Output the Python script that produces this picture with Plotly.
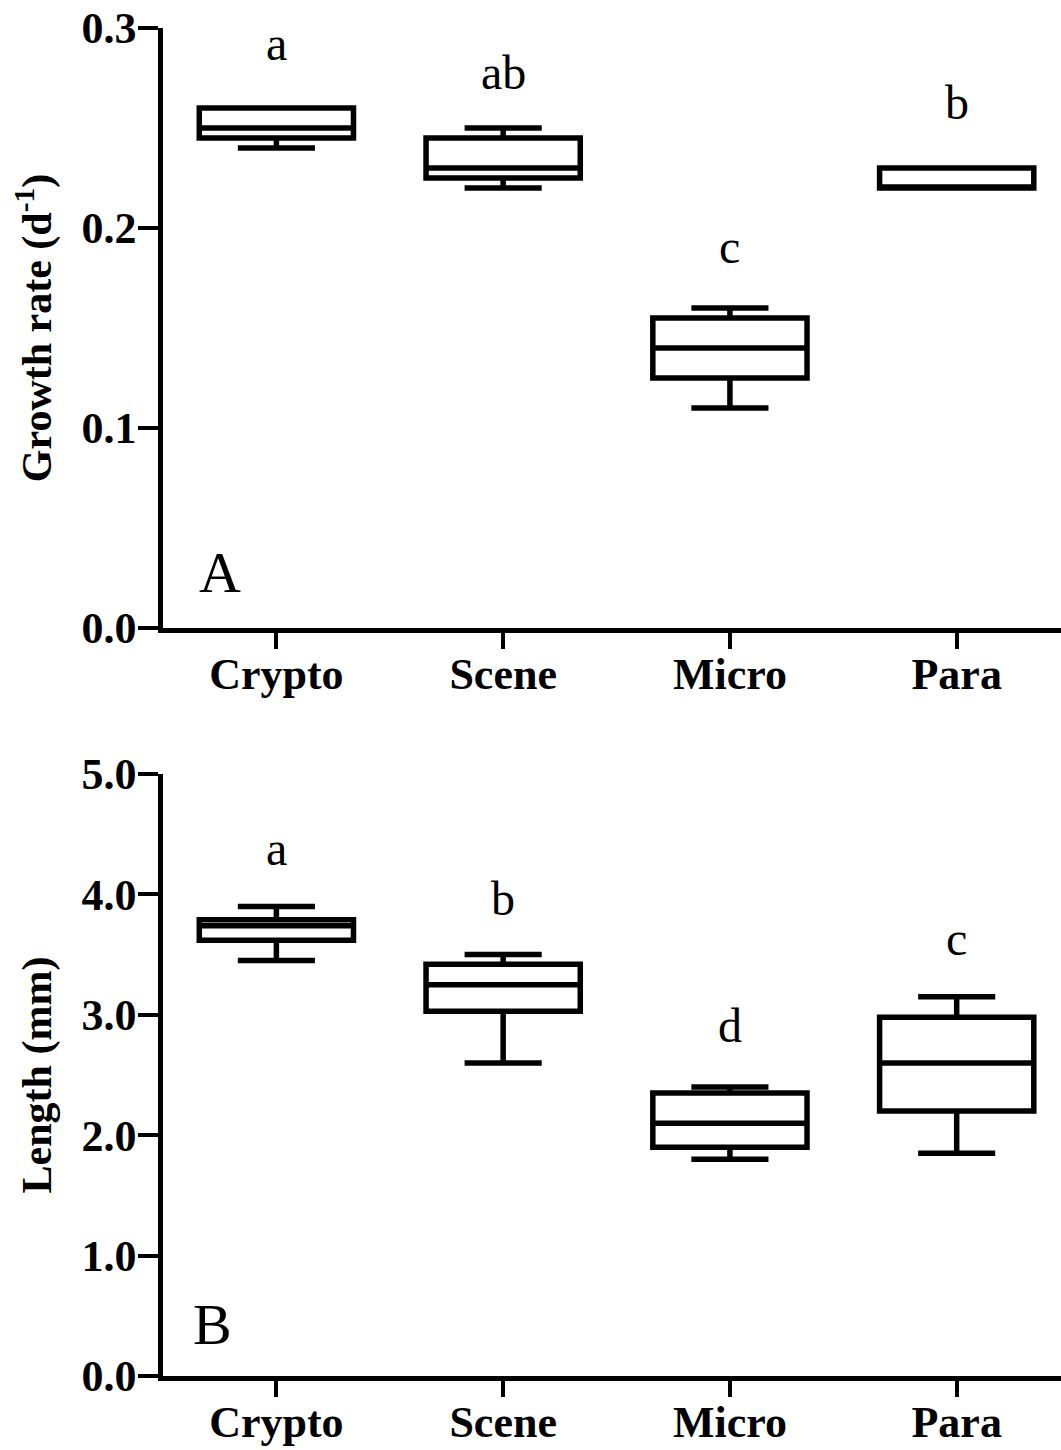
import plotly.graph_objects as go

# Groups shown on both panels
categories = ["Crypto", "Scene", "Micro", "Para"]

# Panel A: specific growth rate (d^-1), box summary per group
growth_min = [0.24, 0.22, 0.11, 0.22]
growth_q1 = [0.245, 0.225, 0.125, 0.22]
growth_median = [0.25, 0.23, 0.14, 0.22]
growth_q3 = [0.26, 0.245, 0.155, 0.23]
growth_max = [0.26, 0.25, 0.16, 0.23]
growth_letters = ["a", "ab", "c", "b"]
growth_letter_y = [0.292, 0.278, 0.191, 0.263]

# Panel B: body length (mm), box summary per group
length_min = [3.45, 2.6, 1.8, 1.85]
length_q1 = [3.62, 3.03, 1.9, 2.2]
length_median = [3.74, 3.25, 2.1, 2.6]
length_q3 = [3.79, 3.42, 2.35, 2.98]
length_max = [3.9, 3.5, 2.4, 3.15]
length_letters = ["a", "b", "d", "c"]
length_letter_y = [4.38, 3.97, 2.91, 3.63]

SERIF = "Liberation Serif"
W, H = 1061, 1450

fig = go.Figure()

box_style = dict(
    fillcolor="white",
    line=dict(color="black", width=5.5),
    whiskerwidth=0.5,
    width=0.68,
    boxpoints=False,
    showlegend=False,
    hoverinfo="skip",
)

fig.add_trace(go.Box(
    x=categories, q1=growth_q1, median=growth_median, q3=growth_q3,
    lowerfence=growth_min, upperfence=growth_max,
    xaxis="x", yaxis="y", **box_style))

fig.add_trace(go.Box(
    x=categories, q1=length_q1, median=length_median, q3=length_q3,
    lowerfence=length_min, upperfence=length_max,
    xaxis="x2", yaxis="y2", **box_style))

tick_font = dict(family=SERIF, size=44, color="black", weight="bold")
title_font = dict(family=SERIF, size=42, color="black", weight="bold")

xaxis_style = dict(
    type="category",
    categoryorder="array",
    categoryarray=categories,
    range=[-0.5, 3.46],
    showline=True, linecolor="black", linewidth=4.5,
    ticks="outside", ticklen=16, tickwidth=4, tickcolor="black",
    tickfont=tick_font,
    ticklabelstandoff=-13,
    showgrid=False, zeroline=False,
    domain=[0, 1],
    automargin=False,
)

yaxis_style = dict(
    showline=True, linecolor="black", linewidth=4.5,
    ticks="outside", ticklen=20, tickwidth=4, tickcolor="black",
    tickfont=tick_font,
    ticklabelstandoff=-7,
    showgrid=False, zeroline=False,
    title_standoff=18,
    automargin=False,
)

annotations = []
for cat, txt, yv in zip(categories, growth_letters, growth_letter_y):
    annotations.append(dict(x=cat, y=yv, xref="x", yref="y", text=txt,
                            showarrow=False,
                            font=dict(family=SERIF, size=48, color="black")))
for cat, txt, yv in zip(categories, length_letters, length_letter_y):
    annotations.append(dict(x=cat, y=yv, xref="x2", yref="y2", text=txt,
                            showarrow=False,
                            font=dict(family=SERIF, size=48, color="black")))

# Panel labels
annotations.append(dict(x=-0.25, y=0.028, xref="x", yref="y", text="A",
                        showarrow=False,
                        font=dict(family=SERIF, size=58, color="black")))
annotations.append(dict(x=-0.28, y=0.43, xref="x2", yref="y2", text="B",
                        showarrow=False,
                        font=dict(family=SERIF, size=58, color="black")))

fig.update_layout(
    width=W, height=H,
    margin=dict(l=163, r=0, t=0, b=0),
    paper_bgcolor="white", plot_bgcolor="white",
    xaxis=dict(anchor="y", **xaxis_style),
    yaxis=dict(anchor="x", domain=[1 - 628 / H, 1 - 28 / H],
               range=[0, 0.3], tickvals=[0, 0.1, 0.2, 0.3],
               tickformat=".1f",
               title=dict(text="Growth rate (d<sup>-1</sup>)", font=title_font),
               **yaxis_style),
    xaxis2=dict(anchor="y2", **xaxis_style),
    yaxis2=dict(anchor="x2", domain=[1 - 1376 / H, 1 - 774 / H],
                range=[0, 5], tickvals=[0, 1, 2, 3, 4, 5],
                tickformat=".1f",
                title=dict(text="Length (mm)", font=title_font),
                **yaxis_style),
    annotations=annotations,
)

fig.write_html("out.html")
